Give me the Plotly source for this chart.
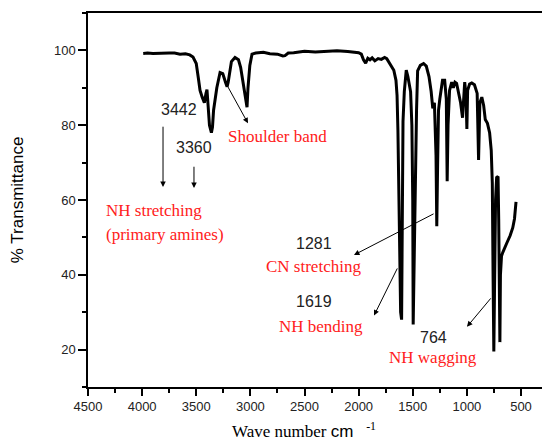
import plotly.graph_objects as go

# Wavenumber (cm^-1) and % transmittance
wavenumber = [
    3990, 3950, 3900, 3850, 3800, 3750, 3700, 3650, 3600, 3560,
    3530, 3500, 3480, 3465, 3445, 3425, 3410, 3401, 3390, 3378,
    3360, 3350, 3340, 3310, 3280, 3255, 3230, 3215, 3205, 3175,
    3142, 3110, 3090, 3068, 3045, 3031, 3022, 3005, 2985, 2950,
    2880, 2820, 2750, 2700, 2680, 2650, 2600, 2500, 2400, 2300,
    2200, 2100, 2000, 1975, 1955, 1935, 1915, 1895, 1875, 1850,
    1820, 1790, 1760, 1740, 1715, 1695, 1675, 1655, 1645, 1637,
    1625, 1612, 1603, 1596, 1590, 1578, 1560, 1545, 1535, 1520,
    1508, 1500, 1496, 1488, 1475, 1465, 1455, 1430, 1400, 1375,
    1350, 1330, 1315, 1300, 1285, 1278, 1270, 1262, 1250, 1225,
    1205, 1190, 1182, 1174, 1160, 1140, 1125, 1110, 1095, 1075,
    1058, 1040, 1030, 1020, 1008, 1000, 993, 975, 955, 930,
    905, 892, 880, 862, 845, 830, 810, 790, 775, 765,
    758, 751, 745, 735, 725, 712, 706, 700, 695, 690,
    680, 668, 650, 631, 600, 576, 560, 550, 546,
]
transmittance = [
    99.2, 99.3, 99.2, 99.3, 99.2, 99.3, 99.3, 99.0, 99.1, 98.8,
    98.2, 96.5, 92.5, 89.3, 87.5, 86.0, 88.5, 89.5, 85.0, 80.0,
    78.0, 79.5, 84.0, 90.0, 94.1, 93.8, 91.5, 90.3, 91.5, 97.0,
    98.1, 97.5, 95.5, 91.5, 88.0, 84.8, 90.0, 96.0, 99.0, 99.3,
    99.5, 99.1, 99.0, 98.5, 98.6, 99.3, 99.4, 99.8, 99.6, 99.7,
    99.9, 99.7, 99.4, 99.0, 97.5, 96.6, 97.9, 97.5, 98.0, 97.2,
    97.8, 97.6, 98.1, 97.8, 96.5, 95.5, 94.7, 92.0, 88.0, 78.7,
    50.0, 30.0, 28.0, 55.0, 81.0, 89.0, 94.7, 93.0, 91.5, 89.0,
    80.0, 60.0, 26.7, 45.0, 75.0, 84.0, 94.5, 96.0, 96.5, 95.8,
    93.0, 89.0, 84.5, 86.0, 72.0, 53.0, 70.0, 84.0, 87.0, 92.0,
    92.0, 87.0, 65.0, 80.0, 89.3, 91.5, 90.0, 91.5, 91.2, 88.5,
    86.0, 82.0, 87.5, 91.5, 88.0, 79.0, 89.3, 91.0, 91.3, 90.8,
    88.5, 70.7, 86.0, 87.5, 85.3, 81.5, 80.5, 78.0, 73.3, 64.5,
    40.0, 19.5, 35.0, 60.0, 66.0, 66.3, 55.0, 30.0, 22.0, 40.0,
    45.0, 46.0, 47.5, 48.5, 50.5, 52.6, 55.0, 58.0, 59.5,
]

x_ticks = [4500, 4000, 3500, 3000, 2500, 2000, 1500, 1000, 500]
y_ticks = [20, 40, 60, 80, 100]

BLACK = "#222222"
RED = "#ff2020"
SANS = "Liberation Sans, Arial, sans-serif"
SERIF = "Liberation Serif, Times New Roman, serif"
# label texts: (text, x, y, colour, font, anchor)
labels = [
    ("3442", 3659, 84.3, BLACK, SANS, "center"),
    ("3360", 3521, 74.1, BLACK, SANS, "center"),
    ("Shoulder band", 2754, 77.1, RED, SERIF, "center"),
    ("NH stretching", 4352, 57.1, RED, SERIF, "left"),
    ("(primary amines)", 4352, 50.9, RED, SERIF, "left"),
    ("1281", 2412, 48.3, BLACK, SANS, "center"),
    ("CN stretching", 2421, 42.1, RED, SERIF, "center"),
    ("1619", 2412, 32.8, BLACK, SANS, "center"),
    ("NH bending", 2348, 26.1, RED, SERIF, "center"),
    ("764", 1304, 23.2, BLACK, SANS, "center"),
    ("NH wagging", 1313, 17.9, RED, SERIF, "center"),
]
# arrows: (tail_x, tail_y, head_x, head_y)
arrows = [
    (3807, 80.0, 3807, 63.5),
    (3521, 69.3, 3521, 63.2),
    (3216, 90.7, 3022, 80.5),
    (1294, 56.5, 2043, 45.3),
    (1636, 42.1, 1858, 29.1),
    (768, 34.1, 999, 26.1),
]

fig = go.Figure()
fig.add_trace(go.Scatter(
    x=wavenumber, y=transmittance, mode="lines",
    line=dict(color="black", width=3), showlegend=False, hoverinfo="skip",
))

annotations = []
for text, x, y, col, fam, anchor in labels:
    annotations.append(dict(
        text=text, x=x, y=y, xref="x", yref="y", showarrow=False,
        xanchor=anchor, yanchor="middle",
        font=dict(family=fam, size=16 if fam == SANS else 17, color=col),
    ))
for tx, ty, hx, hy in arrows:
    annotations.append(dict(
        text="", x=hx, y=hy, ax=tx, ay=ty, xref="x", yref="y",
        axref="x", ayref="y", showarrow=True, arrowhead=2,
        arrowsize=1.1, arrowwidth=1, arrowcolor="black",
    ))
annotations.append(dict(
    text="% Transmittance", x=-0.156, y=0.5, xref="paper", yref="paper",
    textangle=-90, showarrow=False, xanchor="center", yanchor="middle",
    font=dict(family=SANS, size=17, color="black"),
))
annotations.append(dict(
    text="Wave number <span style='font-family:Liberation Sans'>cm</span>&nbsp;&nbsp;&nbsp;<sup>-1</sup>",
    x=0.476, y=-0.115, xref="paper", yref="paper",
    showarrow=False, xanchor="center", yanchor="middle",
    font=dict(family=SERIF, size=17, color="black"),
))

fig.update_layout(
    width=542, height=445,
    margin=dict(l=88, r=0, t=13, b=58),
    paper_bgcolor="white", plot_bgcolor="white",
    annotations=annotations,
    xaxis=dict(
        range=[4500, 306], tickvals=x_ticks, ticktext=[str(v) for v in x_ticks],
        showgrid=False, zeroline=False, showline=True, linecolor="black",
        linewidth=1.5, mirror=True, ticks="outside", ticklen=7, tickwidth=1.5,
        tickcolor="black", tickfont=dict(family=SANS, size=13, color=BLACK),
        minor=dict(dtick=250, tick0=0, ticks="outside", ticklen=4,
                   tickwidth=1.5, tickcolor="black", showgrid=False),
    ),
    yaxis=dict(
        range=[10, 110], tickvals=y_ticks, ticktext=[str(v) for v in y_ticks],
        showgrid=False, zeroline=False, showline=True, linecolor="black",
        linewidth=1.5, mirror=False, ticks="outside", ticklen=8, tickwidth=1.5,
        tickcolor="black", tickfont=dict(family=SANS, size=13, color=BLACK),
        minor=dict(dtick=10, tick0=0, ticks="outside", ticklen=4,
                   tickwidth=1.5, tickcolor="black", showgrid=False),
    ),
)

fig.write_html("out.html")
